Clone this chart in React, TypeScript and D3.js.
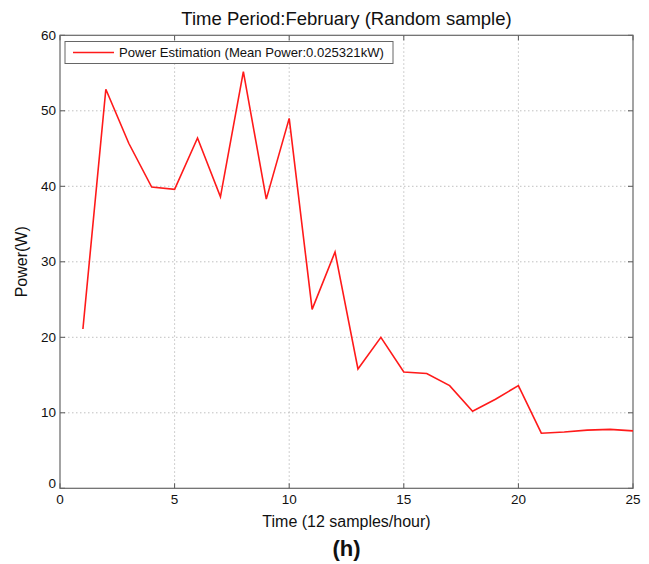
import React from "react";
import * as d3 from "d3";

const xValues = [1, 2, 3, 4, 5, 6, 7, 8, 9, 10, 11, 12, 13, 14, 15, 16, 17, 18, 19, 20, 21, 22, 23, 24, 25];
const powerValues = [21.1, 52.85, 45.7, 39.9, 39.6, 46.4, 38.6, 55.2, 38.3, 49.0, 23.7, 31.3, 15.8, 20.0, 15.4, 15.2, 13.6, 10.2, 11.8, 13.6, 7.3, 7.45, 7.7, 7.8, 7.6];
const xTicks = [0, 5, 10, 15, 20, 25];
const yTicks = [0, 10, 20, 30, 40, 50, 60];
const titleText = "Time Period:February (Random sample)";
const legendText = "Power Estimation (Mean Power:0.025321kW)";
const xLabel = "Time (12 samples/hour)";
const yLabel = "Power(W)";
const panelLabel = "(h)";

export default function App() {
  const W = 649, H = 564;
  const left = 60, right = 633, top = 35.3, bottom = 488.3;
  const x = d3.scaleLinear().domain([0, 25]).range([left, right]);
  const y = d3.scaleLinear().domain([0, 60]).range([bottom, top]);
  const line = d3.line<number>().x((_, i) => x(xValues[i])).y((d) => y(d));
  const font = "'Liberation Sans', Arial, Helvetica, sans-serif";
  const tickLen = 5;
  return (
    <svg width={W} height={H} style={{ position: "absolute", left: 0, top: 0, background: "#fff" }} fontFamily={font}>
      <rect x={0} y={0} width={W} height={H} fill="#fff" />
      {/* grid */}
      {xTicks.slice(1, -1).map((t) => (
        <line key={"gx" + t} x1={x(t)} x2={x(t)} y1={top} y2={bottom} stroke="#b0b0b0" strokeWidth={0.8} strokeDasharray="1.5,2.5" />
      ))}
      {yTicks.slice(1, -1).map((t) => (
        <line key={"gy" + t} x1={left} x2={right} y1={y(t)} y2={y(t)} stroke="#b0b0b0" strokeWidth={0.8} strokeDasharray="1.5,2.5" />
      ))}
      {/* ticks */}
      {xTicks.map((t) => (
        <g key={"tx" + t}>
          <line x1={x(t)} x2={x(t)} y1={bottom} y2={bottom - tickLen} stroke="#555" strokeWidth={1} />
          <line x1={x(t)} x2={x(t)} y1={top} y2={top + tickLen} stroke="#555" strokeWidth={1} />
          <text x={x(t)} y={bottom + 16} textAnchor="middle" fontSize={13.5} fill="#111">{t}</text>
        </g>
      ))}
      {yTicks.map((t) => (
        <g key={"ty" + t}>
          <line x1={left} x2={left + tickLen} y1={y(t)} y2={y(t)} stroke="#555" strokeWidth={1} />
          <line x1={right} x2={right - tickLen} y1={y(t)} y2={y(t)} stroke="#555" strokeWidth={1} />
          <text x={left - 4} y={y(t) + (t === 0 ? 0 : 4.5)} textAnchor="end" fontSize={13.5} fill="#111">{t}</text>
        </g>
      ))}
      {/* box */}
      <rect x={left} y={top} width={right - left} height={bottom - top} fill="none" stroke="#666" strokeWidth={1.2} />
      {/* data */}
      <path d={line(powerValues) || ""} fill="none" stroke="#ff1a1a" strokeWidth={1.6} strokeLinejoin="miter" />
      {/* legend */}
      <rect x={65} y={41.5} width={328} height={22} fill="#fff" stroke="#666" strokeWidth={1} />
      <line x1={73} x2={114} y1={52.5} y2={52.5} stroke="#ff1a1a" strokeWidth={1.6} />
      <text x={119} y={57.3} fontSize={13.1} fill="#111">{legendText}</text>
      {/* titles */}
      <text x={(left + right) / 2} y={25} textAnchor="middle" fontSize={18.5} fill="#111">{titleText}</text>
      <text x={(left + right) / 2} y={527} textAnchor="middle" fontSize={16} fill="#111">{xLabel}</text>
      <text x={(left + right) / 2} y={556} textAnchor="middle" fontSize={22} fontWeight="bold" fill="#111">{panelLabel}</text>
      <text transform={`translate(27, ${(top + bottom) / 2}) rotate(-90)`} textAnchor="middle" fontSize={16} fill="#111">{yLabel}</text>
    </svg>
  );
}
